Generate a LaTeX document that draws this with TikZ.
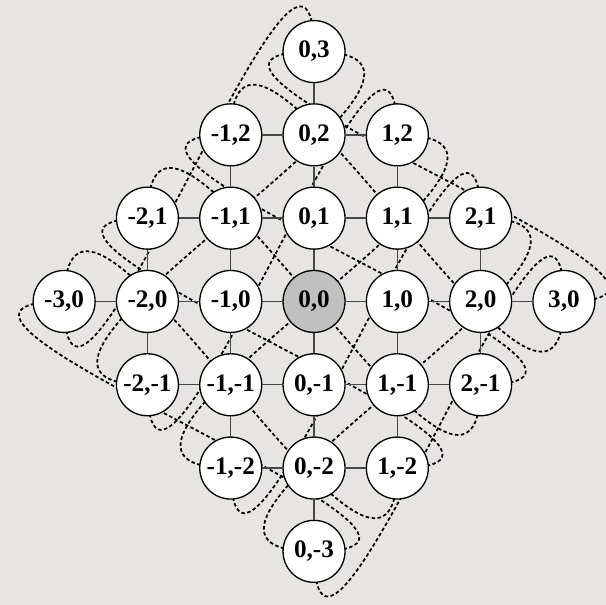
\documentclass[tikz,border=0pt]{standalone}
\usepackage{fontspec}
\setmainfont{Liberation Serif}
\usetikzlibrary{backgrounds}
\definecolor{bgcol}{RGB}{231,229,225}
\definecolor{centrefill}{RGB}{192,192,192}
\begin{document}
\begin{tikzpicture}[x=1cm,y=1cm,
  lat/.style={circle,draw=black,line width=0.45pt,fill=white,minimum size=0.744cm,inner sep=0pt,
              font=\fontsize{8.6}{10}\selectfont\bfseries},
  centre/.style={lat,fill=centrefill},
  gridedge/.style={draw=black!72,line width=0.45pt},
  wrap/.style={draw=black,line width=0.6pt,dash pattern=on 1.2pt off 0.85pt,distance=2.7cm}]
\useasboundingbox (-3.770,-3.643) rectangle (3.505,3.619);
% lattice nodes, named p<x+3><y+3>
\foreach \x/\y in {0/3,-1/2,0/2,1/2,-2/1,-1/1,0/1,1/1,2/1,-3/0,-2/0,-1/0,1/0,2/0,3/0,
                   -2/-1,-1/-1,0/-1,1/-1,2/-1,-1/-2,0/-2,1/-2,0/-3}{
  \pgfmathtruncatemacro\i{\x+3}\pgfmathtruncatemacro\j{\y+3}
  \node[lat] (p\i\j) at (\x,\y) {\x,\y};
}
\node[centre] (p33) at (0,0) {0,0};
% horizontal lattice edges
\foreach \y/\a/\b in {2/-1/0,1/-2/1,0/-3/2,-1/-2/1,-2/-1/0}{
  \foreach \x in {\a,...,\b}{
    \pgfmathtruncatemacro\i{\x+3}\pgfmathtruncatemacro\k{\x+4}\pgfmathtruncatemacro\j{\y+3}
    \draw[gridedge] (p\i\j) -- (p\k\j);
  }
}
% vertical lattice edges
\foreach \x/\a/\b in {0/-3/2,1/-2/1,-1/-2/1,2/-1/0,-2/-1/0}{
  \foreach \y in {\a,...,\b}{
    \pgfmathtruncatemacro\i{\x+3}\pgfmathtruncatemacro\j{\y+3}\pgfmathtruncatemacro\k{\y+4}
    \draw[gridedge] (p\i\j) -- (p\i\k);
  }
}
% background and wrap-around edges (behind the nodes)
\begin{pgfonlayer}{background}
  \begin{scope}
  \clip (-3.770,-3.643) rectangle (3.505,3.619);
  \fill[bgcol] (-3.770,-3.643) rectangle (3.505,3.619);
  \draw[wrap] (p63.center) to[out=0,in=180]   (p36.center);
  \draw[wrap] (p63.center) to[out=90,in=-90]  (p30.center);
  \draw[wrap] (p63.center) to[out=-90,in=90]  (p25.center);
  \draw[wrap] (p36.center) to[out=90,in=-90]  (p03.center);
  \draw[wrap] (p36.center) to[out=0,in=180]   (p12.center);
  \draw[wrap] (p03.center) to[out=180,in=0]   (p30.center);
  \draw[wrap] (p03.center) to[out=90,in=-90]  (p41.center);
  \draw[wrap] (p30.center) to[out=180,in=0]   (p54.center);
  \draw[wrap] (p54.center) to[out=90,in=-90]  (p21.center);
  \draw[wrap] (p45.center) to[out=90,in=-90]  (p12.center);
  \draw[wrap] (p45.center) to[out=0,in=180]   (p21.center);
  \draw[wrap] (p25.center) to[out=180,in=0]   (p52.center);
  \draw[wrap] (p14.center) to[out=90,in=-90]  (p52.center);
  \draw[wrap] (p14.center) to[out=180,in=0]   (p41.center);
  \end{scope}
\end{pgfonlayer}
\end{tikzpicture}
\end{document}
